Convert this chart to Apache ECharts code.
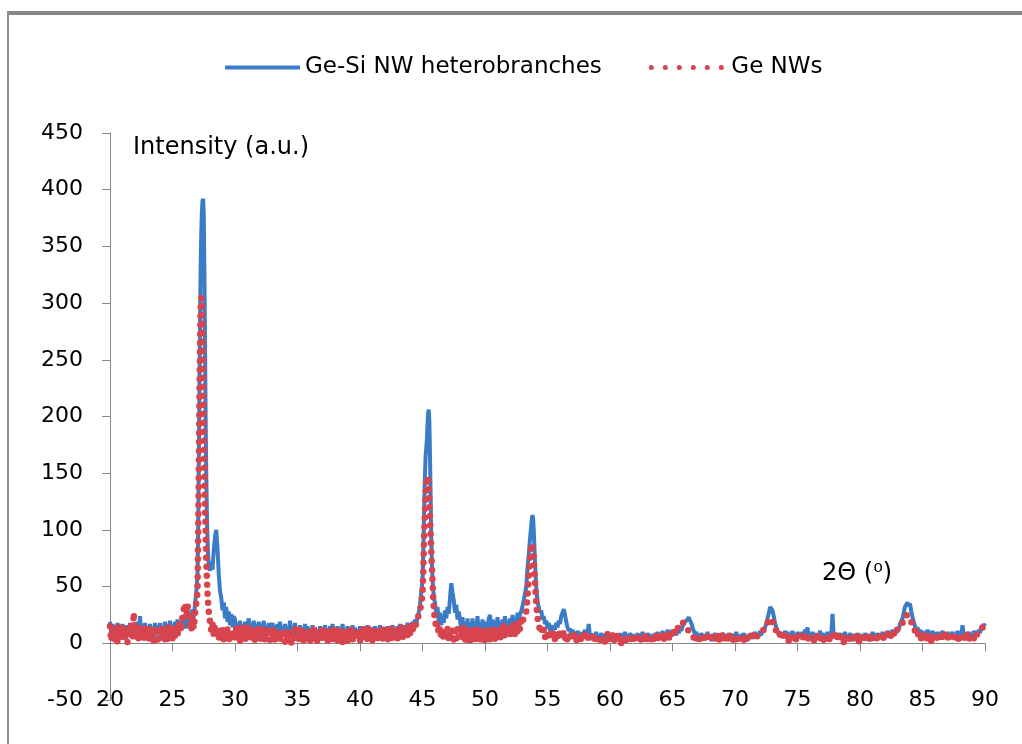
<!DOCTYPE html>
<html>
<head>
<meta charset="utf-8">
<script src="https://cdn.jsdelivr.net/npm/echarts@6/dist/echarts.min.js"></script>
<style>
  html, body { margin: 0; padding: 0; background: #fff; }
  #chart { width: 1022px; height: 744px; }
</style>
</head>
<body>
<div id="chart"></div>
<script>
// 2theta sampling: each segment starts at segStart with its own step
const segStart = [20, 27, 28, 30, 45, 46, 48, 53.3, 54.3]
const segStep = [0.1, 0.05, 0.1, 0.1, 0.05, 0.1, 0.1, 0.05, 0.1]

// Ge-Si NW heterobranches (blue)
const heteroValues = [
    [19, 8, 17, 5, 16, 9, 18, 4, 15, 7,
     17, 6, 14, 4, 16, 8, 18, 5, 15, 7,
     17, 9, 19, 5, 24, 8, 16, 6, 18, 9,
     15, 5, 17, 8, 14, 4, 18, 7, 16, 9,
     18, 6, 15, 10, 19, 7, 17, 9, 20, 8,
     16, 10, 19, 8, 21, 11, 18, 12, 22, 14,
     20, 13, 24, 16, 27, 19, 30, 23, 34, 45],
    [60, 95, 150, 215, 280, 330, 362, 380, 390, 392,
     378, 330, 265, 200, 150, 115, 92, 78, 70, 66],
    [64, 72, 65, 82, 94, 100, 84, 61, 46, 40,
     29, 36, 22, 32, 19, 28, 16, 26, 14, 24],
    [21, 9, 18, 7, 20, 10, 17, 6, 19, 11,
     16, 22, 8, 18, 9, 20, 7, 17, 10, 19,
     8, 17, 11, 20, 6, 16, 9, 18, 7, 15,
     18, 8, 16, 5, 17, 10, 19, 7, 15, 9,
     17, 6, 14, 8, 20, 5, 15, 9, 18, 7,
     14, 4, 16, 8, 13, 5, 17, 7, 15, 6,
     13, 4, 16, 7, 14, 5, 12, 3, 15, 8,
     14, 5, 16, 6, 13, 4, 15, 8, 17, 7,
     13, 5, 15, 3, 14, 8, 17, 6, 12, 4,
     15, 7, 13, 5, 16, 6, 14, 4, 12, 7,
     15, 5, 13, 3, 14, 7, 16, 6, 12, 4,
     14, 6, 15, 4, 13, 8, 16, 5, 14, 7,
     12, 4, 15, 7, 14, 5, 16, 8, 13, 6,
     15, 7, 17, 9, 14, 6, 16, 10, 18, 11,
     17, 10, 19, 13, 21, 15, 24, 27, 34, 45],
    [55, 75, 100, 128, 150, 165, 172, 180, 192, 203,
     206, 195, 165, 128, 95, 72, 58, 48, 42, 38],
    [36, 26, 32, 19, 27, 16, 25, 18, 29, 22,
     32, 26, 40, 53, 45, 38, 27, 34, 21, 28],
    [21, 10, 23, 8, 19, 11, 22, 7, 18, 10,
     22, 9, 19, 11, 24, 8, 18, 10, 21, 12,
     9, 19, 11, 22, 25, 13, 21, 10, 20, 12,
     23, 11, 19, 9, 21, 13, 24, 12, 20, 11,
     22, 13, 25, 15, 23, 14, 27, 17, 26, 28,
     33, 38, 44],
    [50, 58, 66, 72, 78, 85, 92, 98, 104, 110,
     113, 110, 100, 86, 72, 60, 50, 43, 38, 34],
    [32, 27, 29, 21, 24, 17, 20, 13, 18, 11,
     16, 10, 15, 12, 18, 14, 20, 17, 24, 27,
     30, 25, 19, 14, 11, 13, 7, 12, 6, 10,
     5, 11, 7, 9, 4, 10, 6, 12, 5, 9,
     17, 6, 9, 3, 8, 5, 10, 4, 7, 3,
     9, 5, 8, 2, 7, 10, 4, 8, 3, 9,
     5, 8, 2, 7, 4, 9, 3, 8, 6, 10,
     4, 7, 3, 9, 5, 8, 2, 7, 4, 9,
     3, 8, 5, 10, 4, 7, 2, 9, 5, 8,
     3, 7, 4, 9, 6, 10, 4, 8, 5, 11,
     6, 9, 5, 12, 7, 10, 6, 12, 8, 11,
     7, 12, 9, 13, 11, 15, 16, 19, 18, 21,
     23, 20, 18, 14, 11, 8, 10, 5, 8, 4,
     9, 6, 3, 8, 5, 10, 4, 7, 2, 8,
     5, 9, 3, 7, 4, 8, 2, 9, 6, 3,
     8, 4, 9, 5, 7, 2, 8, 5, 10, 4,
     7, 3, 8, 5, 9, 4, 6, 2, 8, 5,
     9, 4, 7, 10, 5, 8, 6, 11, 7, 12,
     10, 14, 17, 22, 26, 32, 33, 29, 24, 18,
     14, 11, 8, 10, 6, 9, 5, 11, 7, 10,
     4, 9, 6, 11, 5, 8, 3, 10, 7, 9,
     5, 10, 6, 12, 8, 14, 6, 9, 4, 10,
     6, 9, 3, 8, 5, 11, 7, 9, 4, 8,
     6, 10, 5, 9, 7, 26, 6, 9, 4, 8,
     5, 9, 3, 8, 6, 10, 4, 7, 3, 9,
     5, 8, 2, 7, 4, 9, 5, 8, 3, 7,
     4, 9, 5, 8, 2, 7, 4, 10, 6, 8,
     3, 9, 5, 8, 4, 10, 6, 9, 5, 11,
     7, 10, 6, 12, 8, 11, 9, 14, 12, 17,
     16, 22, 27, 32, 34, 36, 33, 35, 28, 23,
     19, 15, 12, 14, 9, 12, 7, 11, 6, 10,
     7, 12, 8, 10, 5, 11, 7, 9, 6, 10,
     5, 9, 7, 11, 4, 8, 6, 10, 5, 9,
     7, 10, 4, 8, 6, 11, 5, 9, 7, 16,
     8, 5, 9, 4, 10, 6, 8, 5, 11, 7,
     10, 8, 12, 9, 14, 12, 17, 15]
]

// Ge NWs (red, round dots)
const geValues = [
    [15, 2, 12, 16, 3, 14, 1, 15, 5, 13,
     2, 15, 4, 12, 1, 14, 6, 16, 3, 27,
     8, 3, 13, 1, 15, 5, 12, 2, 14, 4,
     11, 1, 13, 5, 15, 2, 10, 14, 3, 12,
     1, 13, 4, 15, 3, 11, 1, 14, 5, 16,
     4, 13, 6, 17, 7, 15, 19, 10, 24, 30,
     35, 22, 34, 24, 17, 11, 22, 13, 26, 35],
    [45, 95, 150, 210, 262, 295, 305, 298, 270, 235,
     195, 158, 125, 98, 76, 58, 44, 35, 28, 23],
    [19, 11, 17, 7, 15, 5, 13, 3, 12, 6,
     14, 2, 11, 5, 13, 1, 10, 4, 12, 3],
    [3, 13, 5, 15, 2, 12, 6, 14, 1, 11,
     4, 14, 2, 12, 5, 13, 1, 11, 6, 14,
     2, 12, 4, 13, 1, 10, 5, 14, 3, 11,
     5, 13, 1, 11, 4, 12, 2, 10, 5, 13,
     1, 11, 3, 12, 5, 0, 10, 4, 13, 2,
     10, 1, 12, 4, 11, 2, 9, 13, 3, 10,
     1, 11, 4, 12, 2, 9, 0, 10, 5, 12,
     2, 10, 4, 13, 1, 11, 5, 12, 3, 15,
     5, 13, 2, 11, 4, 14, 1, 10, 5, 12,
     2, 11, 4, 13, 1, 10, 5, 12, 3, 11,
     1, 12, 5, 13, 3, 10, 2, 14, 4, 11,
     2, 12, 5, 14, 3, 11, 6, 15, 4, 13,
     3, 11, 1, 12, 5, 13, 2, 10, 4, 14,
     3, 12, 5, 14, 2, 11, 6, 13, 7, 15,
     8, 16, 10, 18, 12, 19, 20, 25, 28, 36],
    [42, 60, 82, 100, 118, 132, 142, 147, 148, 145,
     140, 128, 112, 96, 82, 68, 55, 42, 32, 25],
    [21, 13, 18, 8, 14, 5, 12, 3, 11, 6,
     13, 2, 10, 5, 12, 3, 11, 4, 13, 5],
    [2, 12, 4, 14, 1, 11, 3, 13, 1, 10,
     4, 13, 1, 12, 3, 14, 2, 11, 5, 13,
     1, 11, 4, 14, 2, 12, 5, 15, 3, 13,
     6, 14, 3, 12, 5, 15, 4, 13, 7, 16,
     6, 15, 8, 17, 7, 16, 10, 19, 12, 21,
     18, 23, 25],
    [28, 34, 42, 50, 58, 66, 74, 81, 86, 88,
     87, 82, 74, 64, 54, 44, 36, 29, 23, 19],
    [17, 11, 14, 8, 12, 5, 10, 7, 11, 4,
     9, 5, 10, 3, 8, 6, 11, 4, 9, 6,
     10, 4, 8, 2, 7, 5, 9, 3, 6, 8,
     2, 7, 4, 8, 1, 6, 3, 8, 5, 7,
     2, 6, 4, 8, 1, 5, 7, 3, 6, 2,
     7, 3, 6, 1, 5, 8, 2, 6, 4, 7,
     1, 5, 3, 7, 2, 6, 0, 5, 3, 7,
     2, 6, 4, 8, 1, 5, 3, 7, 2, 6,
     4, 7, 2, 6, 3, 8, 1, 5, 4, 7,
     2, 6, 3, 8, 4, 7, 2, 6, 5, 8,
     3, 7, 5, 9, 4, 8, 6, 10, 7, 11,
     9, 13, 12, 16, 15, 19, 17, 18, 14, 15,
     11, 12, 8, 9, 5, 7, 3, 6, 2, 5,
     3, 6, 1, 5, 3, 7, 2, 5, 4, 6,
     2, 5, 3, 7, 1, 6, 4, 7, 2, 5,
     3, 6, 2, 7, 4, 6, 1, 5, 3, 7,
     2, 6, 4, 7, 3, 5, 2, 6, 4, 7,
     3, 6, 5, 8, 4, 7, 6, 9, 8, 11,
     10, 13, 15, 18, 20, 22, 21, 19, 17, 14,
     11, 9, 6, 8, 4, 7, 3, 6, 5, 8,
     2, 6, 4, 7, 3, 8, 2, 5, 4, 7,
     3, 6, 4, 8, 2, 5, 3, 7, 4, 6,
     2, 5, 3, 7, 4, 6, 2, 5, 3, 7,
     4, 6, 2, 5, 3, 7, 4, 8, 3, 6,
     2, 5, 4, 7, 1, 5, 3, 6, 2, 5,
     3, 6, 2, 5, 4, 7, 1, 5, 3, 6,
     2, 6, 4, 7, 2, 5, 3, 6, 4, 7,
     3, 6, 4, 7, 5, 8, 4, 7, 6, 9,
     5, 8, 6, 10, 8, 11, 9, 13, 12, 15,
     15, 18, 21, 23, 25, 26, 24, 22, 19, 16,
     13, 11, 8, 10, 6, 8, 4, 7, 5, 8,
     3, 7, 4, 8, 2, 6, 4, 7, 3, 6,
     4, 7, 2, 6, 3, 8, 4, 6, 2, 5,
     4, 7, 3, 6, 5, 8, 3, 6, 4, 7,
     3, 6, 4, 8, 2, 6, 5, 7, 4, 8,
     6, 9, 8, 11, 10, 14, 13, 17]
]

const seriesNames = ['Ge-Si NW heterobranches', 'Ge NWs']

const toPairs = (segments) => {
    let out = []
    segments.forEach((vals, s) => {
        vals.forEach((v, i) => {
            out.push([+(segStart[s] + i * segStep[s]).toFixed(3), v])
        })
    })
    return out
}

const font = '"DejaVu Sans", sans-serif'
const axisGray = '#868686'
const blue = '#3b7cc6'
const red = '#d7444e'

let chart = echarts.init(document.getElementById('chart'))

chart.setOption({
    animation: false,
    backgroundColor: '#fff',
    grid: {
        left: 110, right: 37, top: 133, bottom: 44,
        containLabel: false,
        outerBoundsMode: 'none'
    },
    legend: {
        left: 218,
        top: 51,
        itemWidth: 75,
        itemHeight: 14,
        itemGap: 47,
        itemStyle: { opacity: 0 },
        textStyle: { fontFamily: font, fontSize: 23, color: '#000' },
        data: [
            { name: seriesNames[0], lineStyle: { width: 4 } },
            { name: seriesNames[1], lineStyle: { width: 5, type: [0, 14], cap: 'round' } }
        ]
    },
    xAxis: [{
        type: 'value',
        min: 20, max: 90, interval: 5,
        axisLine: { show: true, onZero: true, lineStyle: { color: axisGray, width: 1 } },
        axisTick: { show: true, length: 8, lineStyle: { color: axisGray } },
        axisLabel: { show: false },
        splitLine: { show: false }
    }, {
        type: 'value',
        position: 'bottom',
        min: 20, max: 90, interval: 5,
        axisLine: { show: false, onZero: false },
        axisTick: { show: false },
        axisLabel: {
            margin: 0, verticalAlign: 'middle',
            fontFamily: font, fontSize: 22, color: '#000'
        },
        splitLine: { show: false }
    }],
    yAxis: {
        type: 'value',
        min: -50, max: 450, interval: 50,
        axisLine: { show: true, onZero: false, lineStyle: { color: axisGray, width: 1 } },
        axisTick: { show: true, length: 8, lineStyle: { color: axisGray } },
        axisLabel: { margin: 27, fontFamily: font, fontSize: 22, color: '#000' },
        splitLine: { show: false }
    },
    graphic: [
        { type: 'rect', shape: { x: 7, y: 11, width: 1015, height: 4 }, style: { fill: '#878787' } },
        { type: 'rect', shape: { x: 7, y: 11, width: 2, height: 733 }, style: { fill: '#8c8c8c' } },
        {
            type: 'text', x: 133, y: 148,
            style: { text: 'Intensity (a.u.)', font: '24px ' + font, fill: '#000', verticalAlign: 'middle' }
        },
        {
            type: 'text', x: 822, y: 574,
            style: { text: '2\u0398 (\u2070)', font: '24px ' + font, fill: '#000', verticalAlign: 'middle' }
        }
    ],
    series: [{
        name: seriesNames[0],
        type: 'line',
        xAxisIndex: 0,
        symbol: 'none',
        data: toPairs(heteroValues),
        lineStyle: { color: blue, width: 4 },
        itemStyle: { color: blue }
    }, {
        name: seriesNames[1],
        type: 'line',
        xAxisIndex: 0,
        symbol: 'none',
        data: toPairs(geValues),
        lineStyle: { color: red, width: 6.5, type: [0, 9], cap: 'round' },
        itemStyle: { color: red }
    }]
})
</script>
</body>
</html>
